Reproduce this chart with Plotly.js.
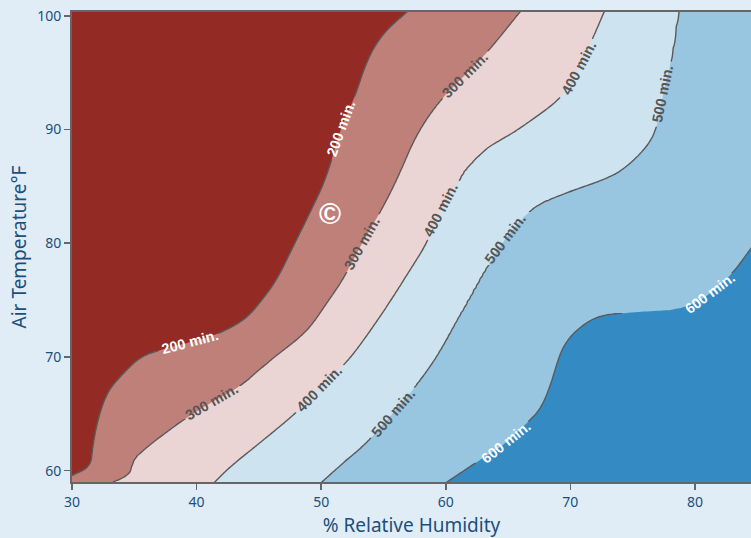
<!DOCTYPE html>
<html><head><meta charset="utf-8">
<script src="https://cdn.plot.ly/plotly-3.0.1.min.js"></script>
<style>html,body{margin:0;padding:0;background:#e0edf6;} #chart{width:751px;height:538px;}</style>
</head><body><div id="chart"></div>
<script>
// Contour levels (minutes)
const levels = [200, 300, 400, 500, 600];
// Contour lines: humidity (%) and temperature (°F) along each line
const line200Humidity = [27.0, 29.0, 30.06, 31.50, 31.66, 32.06, 32.79, 33.83, 35.44, 37.04, 39.21, 41.62, 43.88, 45.08, 46.45, 47.73, 49.09, 50.46, 51.50, 52.71, 53.67, 54.96, 56.88, 57.6];
const line200Temp     = [58.5, 59.1, 59.6, 60.34, 62.09, 64.47, 66.84, 68.24, 70.0, 70.61, 71.22, 71.93, 73.25, 74.75, 76.77, 79.67, 82.66, 85.82, 89.95, 92.85, 96.11, 98.48, 100.33, 101];
const line300Humidity = [32.4, 33.28, 34.4, 34.72, 34.88, 35.68, 37.04, 38.89, 41.06, 43.47, 45.64, 47.73, 49.09, 50.46, 51.74, 53.11, 54.72, 56.08, 57.68, 59.53, 61.38, 63.31, 65.96, 66.5];
const line300Temp     = [58.5, 59.0, 59.53, 60.06, 60.93, 61.8, 62.94, 64.44, 65.93, 67.34, 69.45, 71.21, 72.54, 74.75, 76.77, 79.67, 82.66, 85.56, 89.69, 92.59, 94.61, 96.72, 100.33, 101];
const line400Humidity = [41.0, 41.46, 42.67, 45.08, 48.29, 49.89, 52.06, 54.15, 55.76, 57.12, 58.49, 59.53, 61.1, 61.5, 63.31, 65.40, 68.37, 69.41, 70.78, 71.99, 72.71, 73.0];
const line400Temp     = [58.5, 59.0, 60.33, 62.44, 65.34, 67.36, 69.47, 72.63, 75.27, 77.64, 80.01, 82.92, 85.56, 86.44, 88.46, 89.69, 91.97, 93.03, 95.49, 98.48, 100.33, 101];
const line500Humidity = [49.5, 50.06, 51.74, 53.67, 55.76, 57.36, 59.29, 60.90, 61.94, 62.99, 64.59, 66.52, 67.57, 70.22, 72.63, 74.24, 76.17, 76.97, 77.45, 78.17, 78.65, 78.8];
const line500Temp     = [58.5, 59.0, 60.67, 62.44, 65.08, 67.1, 70.0, 73.25, 75.27, 77.38, 80.28, 82.66, 83.54, 84.68, 85.56, 86.44, 88.46, 90.22, 93.47, 96.37, 100.33, 101];
const line600Humidity = [59.4, 60.10, 62.75, 64.91, 66.52, 67.57, 68.37, 68.93, 69.41, 70.22, 71.58, 72.95, 75.60, 78.81, 80.98, 83.07, 84.51, 86.5, 90, 95, 100];
const line600Temp     = [58.5, 59.0, 60.95, 62.44, 64.2, 65.34, 67.36, 69.47, 70.87, 72.1, 73.25, 73.78, 73.95, 74.13, 75.27, 77.38, 79.57, 82.5, 88, 95, 101];
// temperatures at which each line carries its "... min." label
const label200Temps = [71.3, 90.1];
const label300Temps = [66.0, 80.0, 94.8];
const label400Temps = [67.2, 82.9, 95.4];
const label500Temps = [65.1, 80.4, 93.1];
const label600Temps = [62.5, 75.6];
const xTicks = [30, 40, 50, 60, 70, 80];
const yTicks = [60, 70, 80, 90, 100];
const bandColors = ['#932a24', '#c0807a', '#ead4d4', '#cde4f0', '#98c6e1', '#348ac3'];
const labelColors = ['#ffffff', '#555555', '#555555', '#555555', '#ffffff'];

const X_RANGE = [30, 84.5], Y_RANGE = [59, 100.33];
const W = 751, H = 538, M = {l: 72, r: 0, t: 12, b: 56};
const pxPerX = (W - M.l - M.r) / (X_RANGE[1] - X_RANGE[0]);
const pxPerY = (H - M.t - M.b) / (Y_RANGE[1] - Y_RANGE[0]);
const HALF_GAP = 33; // px, half the opening left in a line for its label

// smooth a read polyline (corner cutting keeps it monotonic in temperature)
function smooth(hx, ty, iters) {
  let p = hx.map((x, i) => [x, ty[i]]);
  for (let it = 0; it < iters; it++) {
    const q = [p[0]];
    for (let i = 0; i < p.length - 1; i++) {
      const a = p[i], b = p[i + 1];
      q.push([0.75 * a[0] + 0.25 * b[0], 0.75 * a[1] + 0.25 * b[1]]);
      q.push([0.25 * a[0] + 0.75 * b[0], 0.25 * a[1] + 0.75 * b[1]]);
    }
    q.push(p[p.length - 1]);
    p = q;
  }
  return [p.map(v => v[0]), p.map(v => v[1])];
}
const lines = [
  smooth(line200Humidity, line200Temp, 4), smooth(line300Humidity, line300Temp, 4),
  smooth(line400Humidity, line400Temp, 4), smooth(line500Humidity, line500Temp, 4),
  smooth(line600Humidity, line600Temp, 4)
];
const labelTemps = [label200Temps, label300Temps, label400Temps, label500Temps, label600Temps];

function crossAt(l, t) {
  const hx = l[0], ty = l[1], n = ty.length;
  let i = 0;
  if (t >= ty[n - 1]) i = n - 2;
  else if (t > ty[0]) { while (i < n - 2 && ty[i + 1] < t) i++; }
  const d = ty[i + 1] - ty[i];
  const f = d === 0 ? 0 : (t - ty[i]) / d;
  return hx[i] + f * (hx[i + 1] - hx[i]);
}

const T0 = 58.5, T1 = 101, DT = 0.2;
const gridX = [], gridY = [];
for (let k = 0; k <= 232; k++) gridX.push(28 + k * 0.25);
for (let t = T0; t <= T1 + 1e-9; t += DT) gridY.push(+t.toFixed(3));

function zRow(t) {
  const cx = lines.map(l => crossAt(l, t));
  return gridX.map(x => {
    if (x <= cx[0]) return levels[0] - (cx[0] - x) * 100 / (cx[1] - cx[0]);
    for (let j = 0; j < cx.length - 1; j++) {
      if (x <= cx[j + 1]) return levels[j] + (x - cx[j]) / (cx[j + 1] - cx[j]) * 100;
    }
    const m = cx.length - 1;
    return levels[m] + (x - cx[m]) * 100 / (cx[m] - cx[m - 1]);
  });
}
const gridZ = gridY.map(zRow);

const scale = [];
bandColors.forEach((c, i) => {
  const lo = i === 0 ? 0 : (i * 0.2 - 0.1);
  const hi = i === bandColors.length - 1 ? 1 : (i * 0.2 + 0.1);
  scale.push([lo, c]); scale.push([hi, c]);
});

const labelFamily = 'Liberation Sans, Arial, sans-serif';
const traces = [{
  type: 'contour', x: gridX, y: gridY, z: gridZ, autocontour: false,
  contours: {start: 200, end: 600, size: 100, coloring: 'fill', showlines: false},
  colorscale: scale, showscale: false, line: {width: 0, smoothing: 1}, hoverinfo: 'skip'
}];

const annotations = [];
levels.forEach((lev, li) => {
  const l = lines[li];
  const gaps = [];
  labelTemps[li].forEach(t => {
    const x = crossAt(l, t);
    const dxdt = (crossAt(l, t + 0.25) - crossAt(l, t - 0.25)) / 0.5;
    const ax = dxdt * pxPerX, ay = pxPerY;
    const ang = -Math.atan2(ay, ax) * 180 / Math.PI;
    const halfT = HALF_GAP * (ay / Math.hypot(ax, ay)) / pxPerY;
    gaps.push([t - halfT, t + halfT]);
    annotations.push({x: x, y: t, xref: 'x', yref: 'y', text: lev + ' min.', textangle: ang,
      showarrow: false, xanchor: 'center', yanchor: 'middle', borderpad: 0,
      font: {family: labelFamily, size: 14.5, weight: 'bold', color: labelColors[li]}});
  });
  // line pieces between label openings
  const cuts = [T0];
  gaps.forEach(g => { cuts.push(g[0]); cuts.push(g[1]); });
  cuts.push(T1);
  for (let s = 0; s < cuts.length; s += 2) {
    const a = cuts[s], b = cuts[s + 1];
    const ys = [a].concat(gridY.filter(y => y > a + 1e-6 && y < b - 1e-6)).concat([b]);
    traces.push({
      type: 'contour', x: gridX, y: ys, z: ys.map(zRow), autocontour: false,
      contours: {start: lev, end: lev, size: 100, coloring: 'none', showlabels: false},
      line: {color: '#5a5a5a', width: 1.4, smoothing: 1}, showscale: false, hoverinfo: 'skip'
    });
  }
});

annotations.push({x: 50.7, y: 82.6, xref: 'x', yref: 'y', text: '<b>©</b>', showarrow: false,
  font: {family: labelFamily, size: 30, color: '#ffffff'}});

const tickFont = {family: 'Noto Sans, sans-serif', size: 14, color: '#1c4f7c'};
const titleFont = {family: 'Noto Sans, sans-serif', size: 19, color: '#1c4f7c'};
const layout = {
  width: W, height: H,
  margin: {l: M.l, r: M.r, t: M.t, b: M.b, pad: 0},
  paper_bgcolor: '#e0edf6', plot_bgcolor: '#e0edf6',
  showlegend: false,
  xaxis: {range: X_RANGE, tickvals: xTicks, ticktext: xTicks.map(String), ticks: 'outside', ticklen: 6,
    tickwidth: 1.5, tickcolor: '#666', showline: true, linecolor: '#666', linewidth: 2, mirror: true,
    showgrid: false, zeroline: false, tickfont: tickFont,
    title: {text: '% Relative Humidity', font: titleFont, standoff: 14}},
  yaxis: {range: Y_RANGE, tickvals: yTicks, ticktext: yTicks.map(String), ticks: 'outside', ticklen: 6,
    tickwidth: 1.5, tickcolor: '#666', showline: true, linecolor: '#666', linewidth: 2,
    showgrid: false, zeroline: false, tickfont: tickFont,
    title: {text: 'Air Temperature°F', font: titleFont, standoff: 6}},
  annotations: annotations
};

Plotly.newPlot('chart', traces, layout, {staticPlot: true, displayModeBar: false});
</script></body></html>
